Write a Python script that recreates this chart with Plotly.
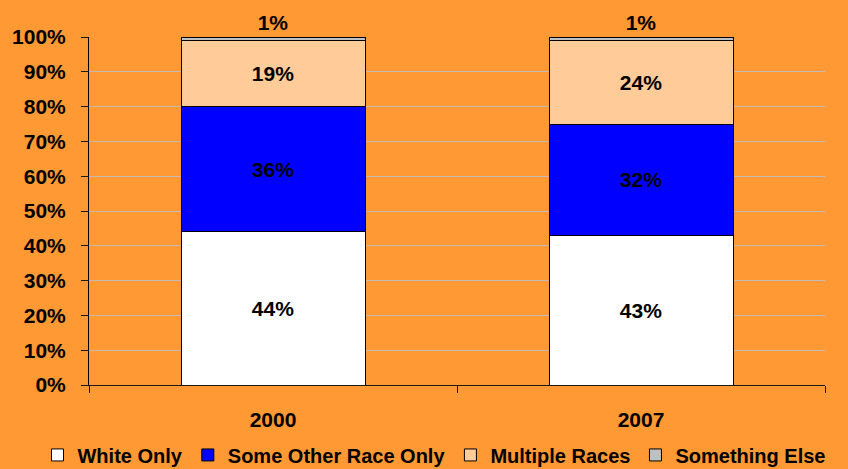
import plotly.graph_objects as go

years = ["2000", "2007"]
series_names = ["White Only", "Some Other Race Only", "Multiple Races", "Something Else"]
white_only = [44, 43]
some_other = [36, 32]
multiple = [19, 24]
something_else = [1, 1]
y_ticks = [0, 10, 20, 30, 40, 50, 60, 70, 80, 90, 100]

colors = ["#FFFFFF", "#0000FF", "#FFCC99", "#C0C0C0"]
values = [white_only, some_other, multiple, something_else]

FONT = "Liberation Sans, Arial, sans-serif"
BG = "#FF9933"

fig = go.Figure()
for i, (name, vals, col) in enumerate(zip(series_names, values, colors)):
    outside = (i == len(series_names) - 1)
    fig.add_trace(go.Bar(
        x=years, y=vals, name=name,
        marker=dict(color=col, line=dict(color="#000000", width=1)),
        text=[f"{v}%" for v in vals],
        textposition="outside" if outside else "inside",
        insidetextanchor="middle",
        constraintext="none",
        cliponaxis=False,
        textfont=dict(family=FONT, size=21, color="#000000", weight="bold"),
        width=0.5,
        hoverinfo="skip",
    ))

fig.update_layout(
    barmode="stack",
    width=848, height=469,
    paper_bgcolor=BG, plot_bgcolor=BG,
    margin=dict(l=89, r=23, t=37, b=84, autoexpand=False),
    font=dict(family=FONT, size=21, color="#000000"),
    showlegend=True,
    legend=dict(
        orientation="h", xref="paper", yref="paper",
        x=-0.07, xanchor="left", y=-0.201, yanchor="middle",
        font=dict(family=FONT, size=20, color="#000000", weight="bold"),
        itemwidth=30, traceorder="normal", bgcolor="rgba(0,0,0,0)",
    ),
    xaxis=dict(
        showline=True, linecolor="#1a1a1a", linewidth=1,
        ticks="outside", tickson="boundaries", ticklen=7, tickcolor="#1a1a1a",
        tickfont=dict(family=FONT, size=21, color="#000000", weight="bold"),
        ticklabelstandoff=16, showgrid=False, automargin=False,
    ),
    yaxis=dict(
        range=[0, 100], tickvals=y_ticks, ticktext=[f"{t}%" for t in y_ticks],
        showline=True, linecolor="#000000", linewidth=1,
        ticks="outside", ticklen=7, tickcolor="#1a1a1a",
        tickfont=dict(family=FONT, size=21, color="#000000", weight="bold"),
        ticklabelstandoff=11, automargin=False,
        showgrid=True, gridcolor="#C4BCB4", gridwidth=1, zeroline=False,
    ),
)

fig.write_html("out.html", post_script="document.body.style.margin='0px';",
               config={"displayModeBar": False})
